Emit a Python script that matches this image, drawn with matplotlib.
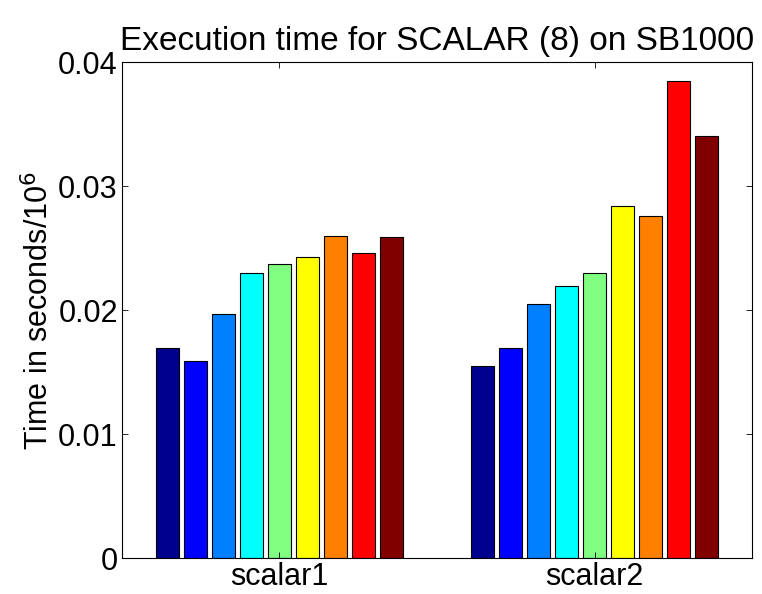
import matplotlib
matplotlib.use("Agg")
import matplotlib.pyplot as plt
import numpy as np

plt.rcParams['font.family'] = ['Liberation Sans', 'DejaVu Sans']

# data
groups = ['scalar1', 'scalar2']
scalar1 = [0.0169, 0.0159, 0.0197, 0.0230, 0.0237, 0.0243, 0.0260, 0.0246, 0.0259]
scalar2 = [0.0155, 0.0169, 0.0205, 0.0219, 0.0230, 0.0284, 0.0276, 0.0385, 0.0340]
yticks = [0, 0.01, 0.02, 0.03, 0.04]
yticklabels = ['0', '0.01', '0.02', '0.03', '0.04']

# MATLAB jet(64) rows picked for 9 series
colors = [(0, 0, 0.5625), (0, 0, 1), (0, 0.5, 1), (0, 1, 1), (0.5, 1, 0.5),
          (1, 1, 0), (1, 0.5, 0), (1, 0, 0), (0.5, 0, 0)]

values = np.array([scalar1, scalar2])
nseries = values.shape[1]
xg = np.arange(1, len(groups) + 1)
step = 0.8 / nseries
width = step * 0.8

fig = plt.figure(figsize=(7.62, 5.94), dpi=100)
ax = fig.add_axes([0.160, 0.0606, 0.827, 0.835])

for k in range(nseries):
    ax.bar(xg + (k - (nseries - 1) / 2) * step, values[:, k], width=width,
           color=colors[k], edgecolor='black', linewidth=0.8)

ax.set_xlim(0.5, 2.5)
ax.set_ylim(0, 0.04)
ax.set_xticks(xg)
ax.set_xticklabels(groups)
ax.set_yticks(yticks)
ax.set_yticklabels(yticklabels)
ax.tick_params(direction='in', top=True, right=True, length=4, width=0.6,
               labelsize=22, pad=3)
for s in ax.spines.values():
    s.set_linewidth(0.8)

ax.set_ylabel('Time in seconds/10$^6$', fontsize=22, labelpad=2)
ax.set_title('Execution time for SCALAR (8) on SB1000', fontsize=24, pad=9)

fig.savefig('out.png', dpi=100)
